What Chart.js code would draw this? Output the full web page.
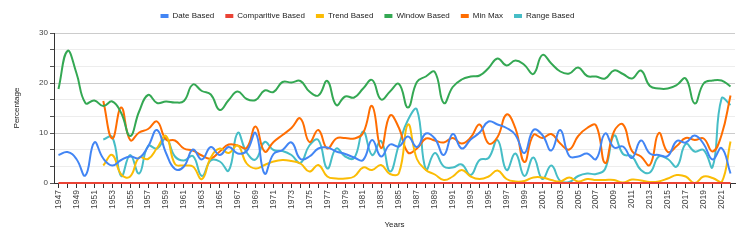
<!DOCTYPE html>
<html>
<head>
<meta charset="utf-8">
<script src="https://cdn.jsdelivr.net/npm/chart.js@4"></script>
<style>
  html, body { margin: 0; padding: 0; background: #fff; }
  #wrap { width: 747px; height: 242px; }
</style>
</head>
<body>
<div id="wrap"><canvas id="yearChart" width="747" height="242"></canvas></div>
<script>
// --- 데이터 (1947 ~ 2022) ---
const years = [
  1947, 1948, 1949, 1950, 1951, 1952, 1953, 1954, 1955, 1956, 1957, 1958, 1959,
  1960, 1961, 1962, 1963, 1964, 1965, 1966, 1967, 1968, 1969, 1970, 1971, 1972,
  1973, 1974, 1975, 1976, 1977, 1978, 1979, 1980, 1981, 1982, 1983, 1984, 1985,
  1986, 1987, 1988, 1989, 1990, 1991, 1992, 1993, 1994, 1995, 1996, 1997, 1998,
  1999, 2000, 2001, 2002, 2003, 2004, 2005, 2006, 2007, 2008, 2009, 2010, 2011,
  2012, 2013, 2014, 2015, 2016, 2017, 2018, 2019, 2020, 2021, 2022
];

const dateBased = [
  5.6, 6.2, 4.8, 1.5, 8.1, 4.9, 3.5, 4.6, 5.3, 5.0, 7.3, 10.6, 6.0,
  2.8, 3.3, 6.7, 4.7, 7.2, 5.6, 7.2, 5.9, 6.4, 10.0, 1.9, 5.8, 6.6,
  8.1, 4.8, 5.3, 6.9, 7.1, 6.3, 5.8, 5.1, 4.6, 8.6, 5.3, 7.7, 7.3,
  9.3, 7.2, 9.9, 8.9, 5.6, 9.8, 6.9, 8.7, 10.1, 12.3, 11.7, 11.0, 9.6,
  6.0, 10.6, 9.6, 6.5, 10.6, 5.4, 5.3, 5.9, 4.8, 9.9, 7.1, 7.3, 5.0,
  8.5, 5.9, 5.6, 5.4, 8.4, 8.1, 9.5, 7.8, 4.7, 7.0, 1.9
];

const comparitiveBased = [
  0, 0, 0, 0, 0, 0, 0, 0, 0, 0, 0, 0, 0,
  0, 0, 0, 0, 0, 0, 0, 0, 0, 0, 0, 0, 0,
  0, 0, 0, 0, 0, 0, 0, 0, 0, 0, 0, 0, 0,
  0, 0, 0, 0, 0, 0, 0, 0, 0, 0, 0, 0, 0,
  0, 0, 0, 0, 0, 0, 0, 0, 0, 0, 0, 0, 0,
  0, 0, 0, 0, 0, 0, 0, 0, 0, 0, 0
];

const trendBased = [
  null, null, null, null, null, 3.5, 5.6, 1.7, 1.3, 5.1, 4.8, 7.0, 9.4,
  3.8, 3.5, 3.3, 0.8, 5.1, 6.9, 6.0, 7.5, 3.9, 2.9, 3.6, 4.3, 4.6,
  4.4, 3.9, 2.3, 3.6, 1.3, 0.9, 0.9, 1.3, 3.1, 2.6, 3.6, 1.8, 2.0,
  11.7, 4.8, 2.6, 1.7, 0.6, 1.3, 2.6, 1.3, 0.8, 1.3, 2.5, 0.8, 0.3,
  0.4, 1.1, 1.1, 0.6, 0.3, 1.1, 0.3, 0.8, 0.6, 0.6, 0.6, 0.1, 0.7,
  0.5, 0.2, 0.3, 0.9, 1.6, 1.3, 0.0, 1.3, 1.0, 0.1, 8.3
];

const windowBased = [
  18.8, 26.4, 22.0, 16.0, 16.5, 15.4, 16.3, 14.0, 9.4, 14.3, 17.6, 16.0, 16.3,
  16.1, 16.4, 19.7, 18.4, 17.7, 14.6, 16.6, 18.3, 16.8, 16.6, 18.5, 18.2, 20.2,
  20.1, 20.4, 18.3, 17.5, 20.4, 15.6, 17.3, 17.1, 18.9, 20.6, 16.7, 18.3, 19.8,
  15.1, 20.2, 21.3, 22.2, 16.0, 19.2, 20.7, 21.3, 21.5, 23.0, 24.9, 23.5, 24.5,
  23.6, 21.8, 25.6, 23.9, 22.3, 21.9, 23.1, 21.4, 21.3, 20.9, 22.5, 21.8, 20.9,
  22.5, 19.4, 18.9, 18.9, 19.6, 20.9, 15.9, 19.9, 20.5, 20.5, 19.3
];

const minMax = [
  null, null, null, null, null, 16.4, 8.9, 15.1, 8.6, 10.1, 10.8, 12.3, 8.7,
  8.5, 6.9, 6.5, 5.5, 4.9, 6.3, 7.7, 7.5, 7.0, 11.3, 6.3, 8.2, 9.6,
  11.0, 12.9, 8.2, 10.6, 6.9, 8.9, 9.0, 8.9, 10.0, 15.4, 7.0, 13.5, 11.0,
  6.1, 6.9, 8.9, 8.5, 8.1, 9.0, 7.9, 9.1, 11.7, 7.9, 9.2, 13.7, 10.9,
  4.2, 9.6, 9.0, 9.8, 7.9, 6.7, 9.4, 11.0, 11.5, 4.0, 10.3, 11.7, 6.4,
  5.3, 3.6, 10.0, 6.2, 7.4, 9.0, 8.6, 8.9, 6.3, 9.6, 17.5
];

const rangeBased = [
  null, null, null, null, null, 8.7, 9.2, 1.4, 5.6, 1.9, 7.4, 6.9, 8.9,
  5.3, 4.5, 5.4, 1.4, 4.5, 4.3, 2.5, 10.0, 6.1, 4.7, 8.2, 6.6, 6.4,
  5.6, 4.0, 7.5, 8.6, 2.9, 6.9, 5.3, 5.0, 10.3, 5.6, 8.4, 2.3, 7.7,
  12.6, 14.7, 2.7, 6.0, 3.3, 3.1, 3.7, 1.6, 4.6, 5.0, 8.6, 2.6, 5.9,
  1.4, 5.1, 0.8, 3.5, 0.4, 0.2, 1.4, 1.9, 1.8, 2.8, 9.5, 5.8, 5.3,
  2.6, 2.1, 5.3, 4.8, 3.3, 7.8, 6.3, 6.6, 3.2, 16.9, 15.6
];

const seriesNames = ["Date Based", "Comparitive Based", "Trend Based", "Window Based", "Min Max", "Range Based"];
const seriesColors = ["#4285F4", "#EA4335", "#FBBC04", "#34A853", "#FF6D01", "#46BDC6"];
const seriesValues = [dateBased, comparitiveBased, trendBased, windowBased, minMax, rangeBased];

// --- 차트 설정 ---
Chart.defaults.font.family = 'Arial, "Liberation Sans", sans-serif';
Chart.defaults.font.size = 8;
Chart.defaults.color = '#444';

// 범례 아래 여백 조금 추가
const legendGap = {
  id: 'legendGap',
  beforeLayout(chart) {
    const lg = chart.legend;
    if (!lg || lg._gapPatched) return;
    const fit = lg.fit;
    lg.fit = function () { fit.call(this); this.height += 3; };
    lg._gapPatched = true;
  }
};

const isMajor = (v) => Math.abs(v - Math.round(v / 10) * 10) < 0.01;

const ctx = document.getElementById('yearChart').getContext('2d');
const yearChart = new Chart(ctx, {
  type: 'line',
  data: {
    labels: years,
    datasets: seriesNames.map((name, i) => ({
      label: name,
      data: seriesValues[i],
      borderColor: seriesColors[i],
      backgroundColor: seriesColors[i],
      borderWidth: 2,
      pointRadius: 0,
      pointHoverRadius: 0,
      tension: 0.45,
      fill: false,
      clip: 4
    }))
  },
  plugins: [legendGap],
  options: {
    responsive: false,
    animation: false,
    devicePixelRatio: 1,
    layout: { padding: { left: 0, right: 12, top: 1, bottom: 0 } },
    plugins: {
      legend: {
        display: true,
        position: 'top',
        labels: {
          boxWidth: 8,
          boxHeight: 4,
          padding: 11,
          color: '#222',
          font: { size: 8 },
          generateLabels: (chart) => Chart.defaults.plugins.legend.labels.generateLabels(chart)
            .map(item => ({ ...item, lineWidth: 0 }))
        }
      },
      tooltip: { enabled: false }
    },
    scales: {
      x: {
        offset: true,
        afterFit: (scale) => { scale.height = 59; },
        border: { display: true, color: '#333' },
        grid: {
          display: true,
          drawOnChartArea: false,
          drawTicks: true,
          tickLength: 5,
          offset: false,
          color: '#333',
          tickColor: '#333'
        },
        ticks: {
          autoSkip: false,
          maxRotation: 90,
          minRotation: 90,
          padding: 2,
          color: '#444',
          font: { size: 8.5 },
          callback: function (val, idx) { return idx % 2 === 0 ? this.getLabelForValue(val) : ''; }
        },
        title: {
          display: true,
          text: 'Years',
          color: '#222',
          font: { size: 8 },
          padding: { top: 4, bottom: 12 }
        }
      },
      y: {
        min: 0,
        max: 30,
        afterFit: (scale) => { scale.width = 54; },
        border: { display: true, color: '#333' },
        grid: {
          drawTicks: true,
          tickLength: 4,
          color: (c) => (c.tick && isMajor(c.tick.value)) ? '#cccccc' : '#ededed',
          tickColor: '#555'
        },
        ticks: {
          stepSize: 10 / 3,
          padding: 2,
          color: '#444',
          font: { size: 8 },
          callback: (v) => isMajor(v) ? String(Math.round(v)) : ''
        },
        title: {
          display: true,
          text: 'Percentage',
          color: '#222',
          font: { size: 8 },
          padding: { top: 12, bottom: 0 }
        }
      }
    }
  }
});
</script>
</body>
</html>
